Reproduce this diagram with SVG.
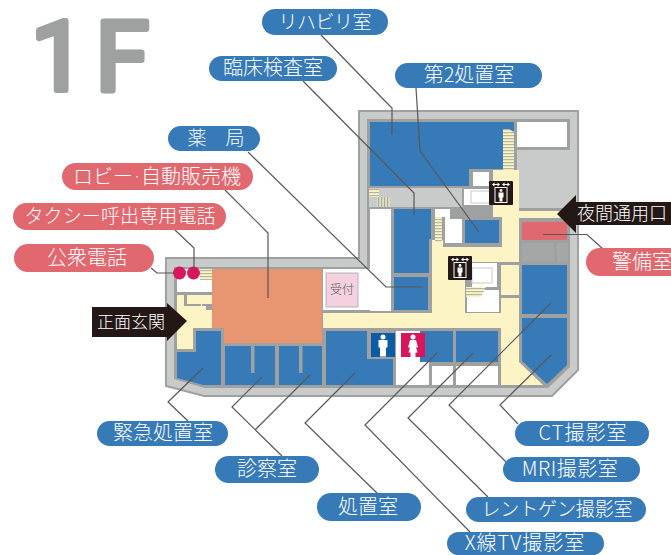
<svg xmlns="http://www.w3.org/2000/svg" xmlns:xlink="http://www.w3.org/1999/xlink" width="671" height="555" viewBox="0 0 671 555">
<style>
.b{fill:#377ab8}.y{fill:#fcf4c4}.w{fill:#fff}.g{fill:#c9caca}.d{fill:#9fa0a0}
.bp{fill:#377ab8}.rp{fill:#e1686f}.kp{fill:#231815}
text{font-family:"Noto Sans CJK JP","Noto Sans",sans-serif;font-size:19px;fill:#fff;text-anchor:middle;font-weight:300}
.t20{font-size:20px}
#connectors path{fill:none;stroke:#595757;stroke-width:1.2}
.st{fill:url(#stripes)}
.si{fill:url(#stripesV)}
</style>
<defs>
<pattern id="stripes" width="4" height="3" patternUnits="userSpaceOnUse"><rect width="4" height="3" fill="#fcf4c4"/><rect width="4" height="1.2" fill="#b5b5a5"/></pattern>
<pattern id="stripesV" width="3" height="4" patternUnits="userSpaceOnUse"><rect width="3" height="4" fill="#ddddc8"/><rect width="1.1" height="4" fill="#a9a9a0"/></pattern>
<g id="lift">
<rect width="24" height="24" rx="1" fill="#231815"/>
<rect x="6" y="6.500" width="12" height="15" fill="none" stroke="#fff" stroke-width="1"/>
<path d="M4 3.500H10M14 3.500H20" stroke="#fff" stroke-width="1.200"/>
<path d="M3 3.500l2.500-2v4zM11 3.500l-2.500-2v4zM13 3.500l2.500-2v4zM21 3.500l-2.500-2v4z" fill="#fff"/>
<circle cx="12" cy="9.500" r="1.400" fill="#fff"/>
<path d="M9.500 11.500h5v5h-1v4h-3v-4h-1z" fill="#fff"/>
</g>
<g id="man"><circle cx="0" cy="-8" r="2.500" fill="#fff"/><path d="M-4.500-5h9v7.500h-1.500v9h-6v-9h-1.500z" fill="#fff"/></g>
<g id="woman"><circle cx="0" cy="-8" r="2.500" fill="#fff"/><path d="M-3-5h6l2 7.500-2 0 1.500 5h-2v4.500h-5v-4.500h-2l1.500-5-2 0z" fill="#fff"/></g>
</defs>

<g id="plan">
<path d="M359 111H578V370L552 396H204L166 386V258H359Z" fill="#c9caca" stroke="#9fa0a0" stroke-width="2"/>
<path d="M367 119H570V367L548 388H205L174 379V267H367Z" fill="#9fa0a0"/>
<rect class="g" x="517" y="150" width="53" height="58"/>
<rect class="g" x="369" y="188" width="93" height="19"/>
<rect class="w" x="370" y="209" width="21" height="102"/>
<rect class="w" x="323" y="269" width="68" height="41"/>
<path class="b" d="M370 122H514V169H469V186H370Z"/>
<rect class="w" x="517" y="122" width="50" height="25"/>
<rect class="w" x="473" y="172" width="16" height="14"/>
<rect class="w" x="464" y="189" width="28" height="16"/>
<rect x="471" y="191" width="19" height="12" fill="#fff" stroke="#c9caca"/>
<path class="st" d="M503 133L503 170H514V132L509 129H503Z"/>
<rect class="si" x="377" y="197" width="13" height="10"/>
<rect class="st" x="369" y="189" width="10" height="8"/>
<g class="y">
<rect x="493" y="170" width="26" height="47"/>
<rect x="519" y="211" width="47" height="7"/>
<rect x="502" y="217" width="17" height="30"/>
<rect x="443" y="247" width="76" height="15"/>
<rect x="432" y="240" width="11" height="73"/>
<rect x="432" y="262" width="20" height="20"/>
<rect x="432" y="277" width="33" height="36"/>
<rect x="323" y="313" width="196" height="15"/>
<rect x="501" y="265" width="18" height="30"/>
<path d="M501 298H519V362L543 385H501Z"/>
</g>
<rect class="d" x="452" y="207" width="41" height="12"/>
<path class="w" d="M435 209H450V219H462V243H445V217H435Z"/>
<rect class="st" x="435" y="217" width="7" height="25"/>
<rect class="b" x="465" y="220" width="34" height="23"/>
<path class="b" d="M394 209H431V239H429V273H394Z"/>
<rect class="b" x="394" y="277" width="34" height="33"/>
<rect class="w" x="472" y="263" width="25" height="24"/>
<rect x="472" y="268" width="20" height="15" fill="#fff" stroke="#c9caca"/>
<rect class="w" x="467" y="290" width="32" height="22"/>
<path class="st" d="M466 287H486L481 297H466Z"/>
<rect x="522" y="222" width="45" height="18" fill="#e1686f"/>
<rect x="522" y="243" width="32" height="19" fill="#a5a6a6"/>
<rect x="557" y="243" width="11" height="19" fill="#a5a6a6"/>
<rect class="b" x="522" y="265" width="45" height="49"/>
<path class="b" d="M522 318H567V365L547 384L522 361Z"/>
<rect class="w" x="396" y="331" width="24" height="54"/>
<rect class="w" x="416" y="362" width="13" height="23"/>
<rect class="b" x="420" y="331" width="33" height="31"/>
<rect class="b" x="456" y="331" width="42" height="31"/>
<rect class="w" x="432" y="366" width="21" height="19"/>
<rect class="w" x="456" y="366" width="42" height="19"/>
<path class="b" d="M326 331H367V359H393V385H326Z"/>
<rect class="b" x="279" y="346" width="43" height="39"/>
<rect class="b" x="225" y="346" width="50" height="39"/>
<rect class="d" x="251" y="346" width="3.500" height="27"/>
<rect class="d" x="299" y="346" width="3.500" height="27"/>
<path class="b" d="M196 331H221V385H203L177 378V352H196Z"/>
<path d="M212 269H322V343H224V328H212Z" fill="#e79671"/>
<rect x="326" y="273" width="32" height="34" fill="#f5d0e0" stroke="#b5b5b5" stroke-width="1"/>
<rect class="w" x="177" y="269" width="35" height="23"/>
<rect class="st" x="200" y="269" width="12" height="11"/>
<path class="y" d="M177 295H212V328H193V349H177Z"/>
<path class="d" d="M184 295H187V304H201V306H184Z"/>
<path class="d" d="M202 304H212V310H206V306H202Z"/>
<use xlink:href="#lift" href="#lift" x="489" y="181"/>
<use xlink:href="#lift" href="#lift" x="448" y="256"/>
<rect x="371" y="333" width="24" height="24" fill="#0b5ca5"/>
<use xlink:href="#man" href="#man" x="383" y="345"/>
<rect x="401" y="333" width="24" height="24" fill="#d9155b"/>
<use xlink:href="#woman" href="#woman" x="413" y="345"/>
<circle cx="179.500" cy="273" r="6.500" fill="#d9155b"/>
<circle cx="193.500" cy="273" r="6.500" fill="#d9155b"/>
<text x="342" y="294" style="font-size:12px;fill:#595757">受付</text>
</g>

<text id="floor" x="31" y="90" letter-spacing="10" style="font-family:Roboto,sans-serif;font-size:97px;font-weight:400;text-anchor:start;fill:#9fa0a0;stroke:#9fa0a0;stroke-width:6;stroke-linejoin:round">1F</text>

<g id="connectors">
<path d="M321 35L383 99L392 108V135"/>
<path d="M416 88L420 151L479 232"/>
<path d="M303 81L414 193V215"/>
<path d="M248 152L386 287H423"/>
<path d="M225 190L268 233V298"/>
<path d="M175 230L194 248V270"/>
<path d="M151 268L157 273H175"/>
<path d="M203 368L168 402L188 421"/>
<path d="M262 377L232 407L282 456M310 375L255 430"/>
<path d="M355 373L305 423L378 494"/>
<path d="M437 353L365 425L470 532"/>
<path d="M473 353L408 418L488 497"/>
<path d="M551 303L449 405L506 462"/>
<path d="M551 355L500 405L518 424"/>
<path d="M543 234.500H587L603 249"/>
</g>

<g id="n-rehab"><rect class="bp" x="262" y="9" width="126" height="26" rx="13"/><text x="325" y="29" textLength="93">リハビリ室</text></g>
<g id="n-lab"><rect class="bp" x="209" y="56" width="128" height="25" rx="12.500"/><text x="273" y="75" class="t20">臨床検査室</text></g>
<g id="n-treat2"><rect class="bp" x="395" y="63" width="147" height="25" rx="12.500"/><text x="469" y="82" class="t20">第2処置室</text></g>
<g id="n-pharmacy"><rect class="bp" x="168" y="126" width="92" height="25" rx="12.500"/><text x="216" y="145">薬　局</text></g>
<g id="n-lobby"><rect class="rp" x="62" y="163" width="191" height="27" rx="13.500"/><text x="157" y="184" class="t20">ロビー<tspan dy="-4.500" style="font-size:8px">・</tspan><tspan dy="4.500">自動販売機</tspan></text></g>
<g id="n-taxi"><rect class="rp" x="13" y="203" width="213" height="27" rx="13.500"/><text x="120" y="223" textLength="191">タクシー呼出専用電話</text></g>
<g id="n-phone"><rect class="rp" x="14" y="244" width="140" height="28" rx="14"/><text x="87" y="265" class="t20">公衆電話</text></g>
<g id="n-night"><path class="kp" d="M557 214L576 195V202H671V225H576V233Z"/><text x="622" y="220" style="font-size:18px">夜間通用口</text></g>
<g id="n-guard"><rect class="rp" x="586" y="248" width="100" height="28" rx="14"/><text x="642" y="269" class="t20">警備室</text></g>
<g id="n-entrance"><path class="kp" d="M92 307H167V303L187 321L167 341V337H92Z"/><text x="131" y="328" style="font-size:17px">正面玄関</text></g>
<g id="n-er"><rect class="bp" x="97" y="421" width="131" height="25" rx="12.500"/><text x="163" y="440" class="t20">緊急処置室</text></g>
<g id="n-exam"><rect class="bp" x="215" y="456" width="104" height="27" rx="13.500"/><text x="267" y="476" class="t20">診察室</text></g>
<g id="n-treat"><rect class="bp" x="317" y="493" width="104" height="28" rx="14"/><text x="368" y="514" class="t20">処置室</text></g>
<g id="n-ct"><rect class="bp" x="515" y="421" width="134" height="25" rx="12.500"/><text x="583" y="440" class="t20" letter-spacing="1">CT撮影室</text></g>
<g id="n-mri"><rect class="bp" x="503" y="457" width="137" height="25" rx="12.500"/><text x="570" y="476" class="t20" letter-spacing=".5">MRI撮影室</text></g>
<g id="n-xray"><rect class="bp" x="466" y="497" width="180" height="25" rx="12.500"/><text x="557" y="516" textLength="151">レントゲン撮影室</text></g>
<g id="n-xtv"><rect class="bp" x="447" y="532" width="157" height="23" rx="11.500"/><text x="525" y="550" class="t20" letter-spacing="1">X線TV撮影室</text></g>
</svg>
